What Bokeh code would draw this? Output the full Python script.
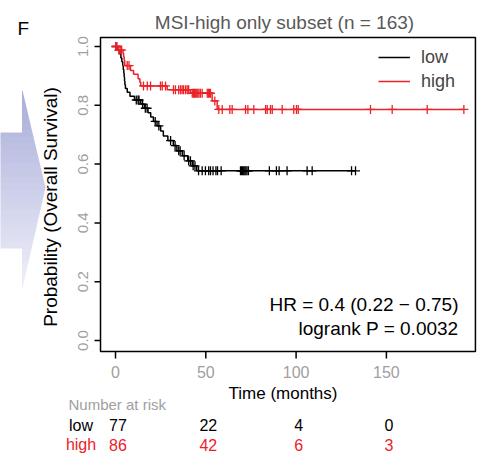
import numpy as np
from bokeh.plotting import figure
from bokeh.models import Range1d, Label, Legend, LegendItem, PolyAnnotation
from bokeh.core.properties import value
from bokeh.embed import file_html
from bokeh.resources import INLINE

FONT = "Liberation Sans"

# ---------------- data ----------------
title_text = "MSI-high only subset (n = 163)"
group_names = ["low", "high"]
x_ticks = [0, 50, 100, 150]
x_tick_labels = ["0", "50", "100", "150"]
y_ticks = [0.0, 0.2, 0.4, 0.6, 0.8, 1.0]
y_tick_labels = ["0.0", "0.2", "0.4", "0.6", "0.8", "1.0"]
x_lim = (-8.3, 199.3)
y_lim = (-0.0374, 1.0306)

# low group: Kaplan-Meier step points (time in months, survival)
low_step_t = [0, 1.0, 2.5, 3.0, 3.5, 4.0, 4.3, 4.6, 4.8, 5.0, 5.2, 5.5, 6.5, 8.0,
              10.5, 14.0, 16.0, 18.0, 19.5, 21.0, 23.0, 25.0, 26.5, 29.0, 32.0,
              34.0, 37.0, 40.0, 42.5, 45.0, 132.9]
low_step_s = [1.0, 0.987, 0.974, 0.961, 0.948, 0.935, 0.922, 0.909, 0.896, 0.883,
              0.870, 0.857, 0.844, 0.831, 0.818, 0.804, 0.790, 0.775, 0.760, 0.745,
              0.730, 0.713, 0.696, 0.680, 0.663, 0.645, 0.628, 0.611, 0.594, 0.577,
              0.577]
low_censor_t = [0.3, 11.5, 12.5, 13.0, 15.0, 16.5, 17.5, 22.0, 24.0, 30.5, 33.0,
                35.0, 35.8, 38.0, 40.5, 41.5, 43.0, 44.0,
                46.0, 48.0, 49.8, 51.6, 52.6, 54.0, 55.6, 56.5, 58.5,
                69.2, 69.8, 70.4, 71.0, 71.6, 72.2, 72.8, 73.6,
                85.2, 89.1, 90.6, 95.0, 106.1, 108.9, 130.7, 132.9]

# high group
high_step_t = [0, 1.2, 4.2, 4.5, 4.8, 5.1, 8.3, 10.0, 12.5, 13.5, 14.0, 28.6,
               41.5, 53.5, 56.3, 192.9]
high_step_s = [1.0, 0.988, 0.977, 0.965, 0.953, 0.935, 0.918, 0.906, 0.890, 0.878,
               0.866, 0.853, 0.841, 0.815, 0.786, 0.786]
high_censor_t = [0.3, 0.8, 1.8, 2.6, 3.4, 6.5, 7.5,
                 15.5, 17.6, 19.4, 24.9, 25.9, 27.7,
                 32.1, 33.2, 35.0, 36.0, 36.9, 37.7, 38.8, 39.7, 40.5,
                 42.5, 43.2, 43.8, 44.4, 45.0, 45.6, 46.2, 47.0, 48.0,
                 50.8, 51.4, 52.0, 52.6, 55.0,
                 57.2, 59.1, 63.3, 64.6, 72.0, 73.3, 76.6, 83.1, 84.0, 85.8, 86.8,
                 92.3, 98.7, 100.2, 101.2, 141.2, 153.2, 172.6, 192.9]

risk_times = [0, 50, 100, 150]
risk_low = [77, 22, 4, 0]
risk_high = [86, 42, 6, 3]

hr_text = "HR = 0.4 (0.22 \u2212 0.75)"
p_text = "logrank P = 0.0032"

LOW_COLOR = "black"
HIGH_COLOR = "#ec2228"
TICK_GRAY = "#a0a0a0"

W, H = 480, 455


def surv_at(times, step_t, step_s):
    idx = np.searchsorted(np.array(step_t), np.array(times), side="right") - 1
    return list(np.array(step_s)[idx])


# reference pixel -> data (layout helper for positioning texts/decoration)
def px2t(x):
    return (x - 115) / 1.806


def px2s(y):
    return (340 - y) / 294


# ---------------- figure (frame covers the whole canvas) ----------------
p = figure(width=W, height=H, output_backend="svg", toolbar_location=None,
           x_range=Range1d(px2t(0), px2t(W)), y_range=Range1d(px2s(H), px2s(0)),
           min_border_left=0, min_border_right=0, min_border_top=0,
           min_border_bottom=0, x_axis_type=None, y_axis_type=None)
p.background_fill_color = "white"
p.border_fill_color = "white"
p.outline_line_color = None
p.xgrid.visible = False
p.ygrid.visible = False

# decorative arrow at left
def head_right(y):
    if y <= 187:
        return 22 + 23 * (y - 90) / 97
    return 45 - 23 * (y - 187) / 101

c0 = np.array([0xa9, 0xad, 0xda])
c1 = np.array([0xf0, 0xf1, 0xf9])
N = 30
edges = np.linspace(90, 288, N + 1)
for i in range(N):
    y0, y1 = edges[i], min(edges[i + 1] + 0.6, 288)
    frac = ((y0 + y1) / 2 - 90) / 198
    col = "#%02x%02x%02x" % tuple(int(v) for v in (c0 + (c1 - c0) * frac))
    pts = [(21.5, y0), (head_right(y0), y0)]
    if y0 < 187 < y1:
        pts.append((45, 187))
    pts += [(head_right(y1), y1), (21.5, y1)]
    p.add_layout(PolyAnnotation(xs=[px2t(a) for a, b in pts], ys=[px2s(b) for a, b in pts],
                                xs_units="data", ys_units="data",
                                fill_color=col, fill_alpha=1.0, line_color=None,
                                level="underlay"))
    b0, b1 = max(y0, 132), min(y1, 248)
    if b0 < b1:
        bx = [-5, 22.5, 22.5, -5]
        by = [b0, b0, b1, b1]
        p.add_layout(PolyAnnotation(xs=[px2t(a) for a in bx], ys=[px2s(b) for b in by],
                                    xs_units="data", ys_units="data",
                                    fill_color=col, fill_alpha=1.0, line_color=None,
                                    level="underlay"))

# plot box
p.quad(left=[x_lim[0]], right=[x_lim[1]], bottom=[y_lim[0]], top=[y_lim[1]],
       fill_color=None, line_color="black", line_width=1.5)

# axis ticks and tick labels (from tick arrays, through the plot's scales)
x_tick_len = 7 / 294
y_tick_len = 6 / 1.806
p.segment(x0=x_ticks, y0=[y_lim[0]] * len(x_ticks), x1=x_ticks,
          y1=[y_lim[0] - x_tick_len] * len(x_ticks), line_color="black", line_width=1.5)
p.segment(x0=[x_lim[0]] * len(y_ticks), y0=y_ticks, x1=[x_lim[0] - y_tick_len] * len(y_ticks),
          y1=y_ticks, line_color="black", line_width=1.5)
p.text(x=x_ticks, y=[px2s(371)] * len(x_ticks), text=x_tick_labels,
       text_font=value(FONT), text_font_size="16px", text_color=TICK_GRAY,
       text_align="center", text_baseline="middle")
p.text(x=[px2t(82.5)] * len(y_ticks), y=y_ticks, text=y_tick_labels,
       text_font=value(FONT), text_font_size="15px", text_color=TICK_GRAY,
       text_align="center", text_baseline="middle", angle=np.pi / 2)

# curves
r_low = p.step(low_step_t, low_step_s, mode="after", line_color=LOW_COLOR, line_width=1.5)
r_high = p.step(high_step_t, high_step_s, mode="after", line_color=HIGH_COLOR, line_width=1.5)
p.scatter(low_censor_t, surv_at(low_censor_t, low_step_t, low_step_s), marker="cross",
          size=9, line_color=LOW_COLOR, line_width=1.3)
p.scatter(high_censor_t, surv_at(high_censor_t, high_step_t, high_step_s), marker="cross",
          size=9, line_color=HIGH_COLOR, line_width=1.3)

# legend (position in pixels from the canvas bottom-left)
legend = Legend(items=[LegendItem(label=group_names[0], renderers=[r_low]),
                       LegendItem(label=group_names[1], renderers=[r_high])],
                location=(378, H - 91.7), border_line_color=None, background_fill_alpha=0,
                padding=0, margin=0, spacing=3, glyph_width=32, glyph_height=20,
                label_height=20, label_standoff=11, label_text_font=FONT,
                label_text_font_size="18px")
p.add_layout(legend)


def add_label(x, y, text, size, color="black", align="left", angle=0.0):
    p.add_layout(Label(x=x, y=y, text=text, text_font=FONT, text_font_size=size,
                       text_color=color, text_align=align, text_baseline="middle",
                       angle=angle))


add_label(px2t(284), px2s(22), title_text, "19px", color="#595959", align="center")
add_label(px2t(17), px2s(28), "F", "19px")
add_label(px2t(50), px2s(206.5), "Probability (Overall Survival)", "19px",
          align="center", angle=np.pi / 2)
add_label(px2t(282.5), px2s(392.5), "Time (months)", "17px", align="center")
add_label(px2t(458), px2s(303.5), hr_text, "19px", align="right")
add_label(px2t(458), px2s(328), p_text, "19px", align="right")

# number at risk table
add_label(px2t(68), px2s(404), "Number at risk", "15px", color=TICK_GRAY)
add_label(px2t(80.5), px2s(424.7), group_names[0], "16px", color=LOW_COLOR, align="center")
add_label(px2t(80.5), px2s(444), group_names[1], "16px", color=HIGH_COLOR, align="center")
risk_x = [t + 2.5 / 1.806 for t in risk_times]
p.text(x=risk_x, y=[px2s(424.7)] * len(risk_times), text=[str(v) for v in risk_low],
       text_font=value(FONT), text_font_size="16px", text_color=LOW_COLOR,
       text_align="center", text_baseline="middle")
p.text(x=risk_x, y=[px2s(444)] * len(risk_times), text=[str(v) for v in risk_high],
       text_font=value(FONT), text_font_size="16px", text_color=HIGH_COLOR,
       text_align="center", text_baseline="middle")

open("out.html", "w").write(file_html(p, INLINE))
